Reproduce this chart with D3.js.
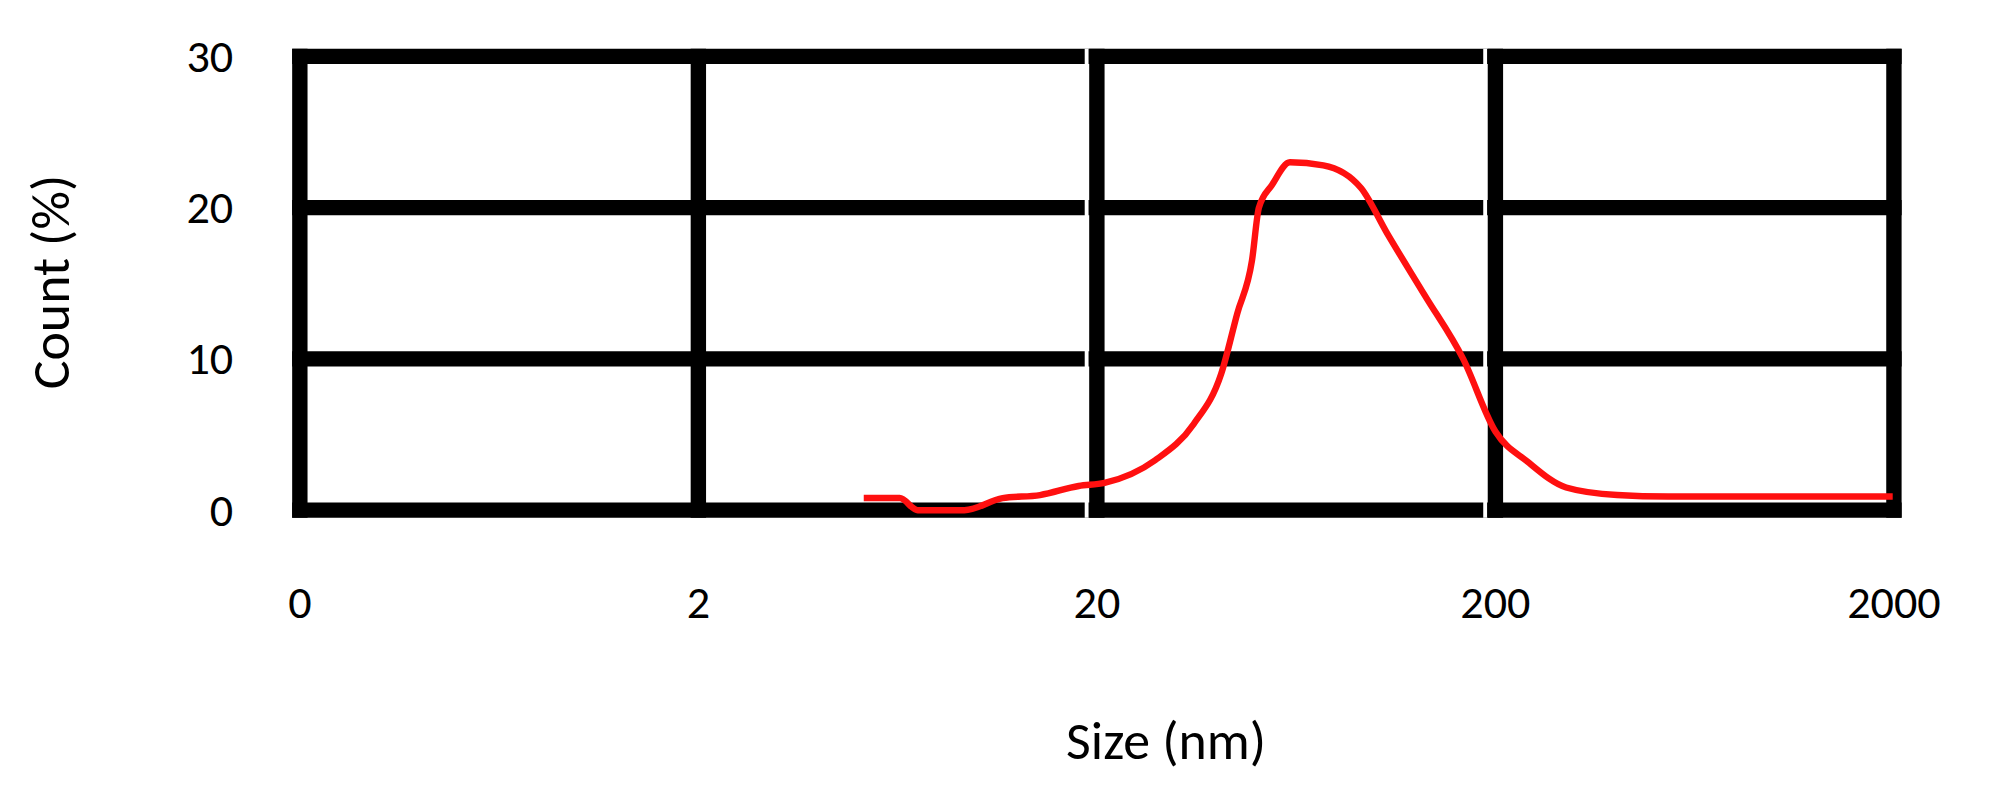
<!DOCTYPE html>
<meta charset="utf-8">
<style>
body { margin: 0; background: #fff; }
text { font-family: Calibri, Carlito, "Liberation Sans", sans-serif; fill: #000; }
</style>
<body>
<script src="https://cdn.jsdelivr.net/npm/d3@7"></script>
<script>

var sizes = [5.2, 6.4, 7.1, 9.3, 11.6, 14.4, 18, 20.9, 28, 35, 41, 45, 49, 51, 55, 61, 74, 92, 107, 133, 166, 200, 241, 301, 404, 543, 1986];
var counts = [0.8, 0.8, 0, 0, 0.8, 1.0, 1.6, 1.8, 3.3, 5.7, 9, 13, 16.5, 20, 21.5, 23, 22.8, 21.3, 18.3, 14.2, 10, 5.2, 3.2, 1.5, 1.0, 0.9, 0.9];
var xTicks = [0.2, 2, 20, 200, 2000];
var xTickLabels = ["0", "2", "20", "200", "2000"];
var yTicks = [0, 10, 20, 30];

// drawn in a 1560x628 frame, scaled up to the window
var width = 1999, height = 805;
var svg = d3.select("body").append("svg")
    .attr("width", width)
    .attr("height", height)
    .attr("viewBox", "0 0 1560 628")
    .attr("preserveAspectRatio", "none");

var x = d3.scaleLog().domain([0.2, 2000]).range([234, 1478]);
var y = d3.scaleLinear().domain([0, 30]).range([398, 44]);

// grid
svg.selectAll("line.h").data(yTicks).enter().append("line")
    .attr("x1", x(0.2) - 6).attr("x2", x(2000) + 6)
    .attr("y1", y).attr("y2", y)
    .attr("stroke", "#000").attr("stroke-width", 12);
svg.selectAll("line.v").data(xTicks).enter().append("line")
    .attr("x1", x).attr("x2", x)
    .attr("y1", y(30) - 6).attr("y2", y(0) + 6)
    .attr("stroke", "#000").attr("stroke-width", 12);
// white seams beside 20 and 200
svg.selectAll("line.w").data([20, 200]).enter().append("line")
    .attr("x1", function(d) { return x(d) - 8; }).attr("x2", function(d) { return x(d) - 8; })
    .attr("y1", y(30) - 6).attr("y2", y(0) + 6)
    .attr("stroke", "#fff").attr("stroke-width", 3);

// curve
var line = d3.line()
    .x(function(d, i) { return x(sizes[i]); })
    .y(function(d) { return y(d); })
    .curve(d3.curveMonotoneX);
svg.append("path").datum(counts)
    .attr("d", line)
    .attr("fill", "none").attr("stroke", "#ff1010").attr("stroke-width", 5);

// tick labels
svg.selectAll("text.x").data(xTicks).enter().append("text")
    .attr("x", x).attr("y", 482)
    .attr("text-anchor", "middle").attr("font-size", 36)
    .text(function(d, i) { return xTickLabels[i]; });
svg.selectAll("text.y").data(yTicks).enter().append("text")
    .attr("x", 182).attr("y", function(d) { return y(d) + 12; })
    .attr("text-anchor", "end").attr("font-size", 36)
    .text(function(d) { return d; });

// axis titles
svg.append("text").attr("x", 910).attr("y", 592)
    .attr("text-anchor", "middle").attr("font-size", 42).text("Size (nm)");
svg.append("text").attr("transform", "translate(54,220) rotate(-90)")
    .attr("text-anchor", "middle").attr("font-size", 42).text("Count (%)");

</script>
